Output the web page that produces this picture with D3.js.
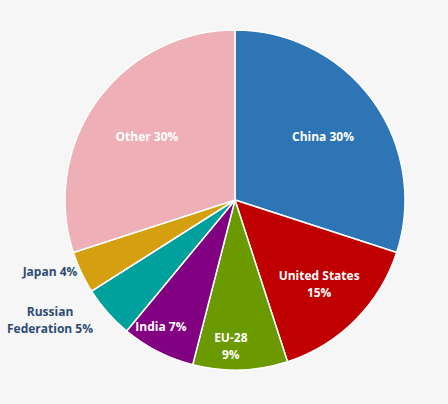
<!DOCTYPE html>
<html>
<head>
<meta charset="utf-8">
<script src="https://cdn.jsdelivr.net/npm/d3@7"></script>
<style>
  body { margin: 0; background: #f6f6f6; }
  text { font-family: "Open Sans", sans-serif; font-weight: bold; }
</style>
</head>
<body>
<div id="pie_chart"></div>
<script>
// data
var regions = ["China", "United States", "EU-28", "India", "Russian Federation", "Japan", "Other"];
var shares = [30, 15, 9, 7, 5, 4, 30];
var colours = ["#2e75b6", "#c00000", "#6a9a00", "#820082", "#00a09c", "#d4a010", "#eeafb6"];

var width = 448, height = 404,
    cx = 235, cy = 200, radius = 170;

var svg = d3.select("#pie_chart")
  .append("svg")
    .attr("width", width)
    .attr("height", height)
  .append("g")
    .attr("transform", "translate(" + cx + "," + cy + ")");

const data = regions.map((r, i) => ({region: r, value: shares[i]}));

const pie = d3.pie().sort(null).value(d => d.value);
const arcs = pie(data);

const arc = d3.arc().innerRadius(0).outerRadius(radius);

const color = d3.scaleOrdinal().domain(regions).range(colours);

svg.selectAll("path")
  .data(arcs)
  .enter()
  .append("path")
    .attr("d", arc)
    .attr("fill", d => color(d.data.region))
    .attr("stroke", "#fff")
    .attr("stroke-width", 1.5);

// label lines, split where the original wraps
function lines(d) {
  if (d.data.region == "United States" || d.data.region == "EU-28")
    return [d.data.region, d.data.value + "%"];
  if (d.data.region == "Russian Federation")
    return ["Russian", "Federation " + d.data.value + "%"];
  return [d.data.region + " " + d.data.value + "%"];
}

function labelPos(d) {
  var a = (d.startAngle + d.endAngle) / 2;
  var r = d.data.value >= 30 ? 0.64 * radius : (d.data.value >= 15 ? 0.7 * radius : 0.86 * radius);
  if (d.data.value <= 5) {
    // small slices get their label outside, on the left
    return [-185, -Math.cos(a) * radius * 1.02 + (d.data.value == 5 ? 5 : -2)];
  }
  if (d.data.value < 15) a += 0.06;
  return [Math.sin(a) * r, -Math.cos(a) * r];
}

const labels = svg.append("g")
  .selectAll("text")
  .data(arcs)
  .enter()
  .append("text")
    .attr("text-anchor", "middle")
    .attr("font-size", 12)
    .attr("fill", d => d.data.value <= 5 ? "#2e4d72" : "#fff")
    .attr("transform", d => "translate(" + labelPos(d) + ")");

labels.each(function(d) {
  var ls = lines(d);
  var t = d3.select(this);
  ls.forEach((l, i) => {
    t.append("tspan")
      .attr("x", 0)
      .attr("dy", i == 0 ? (4.5 - (ls.length - 1) * 8.5) + "px" : "17px")
      .text(l);
  });
});
</script>
</body>
</html>
